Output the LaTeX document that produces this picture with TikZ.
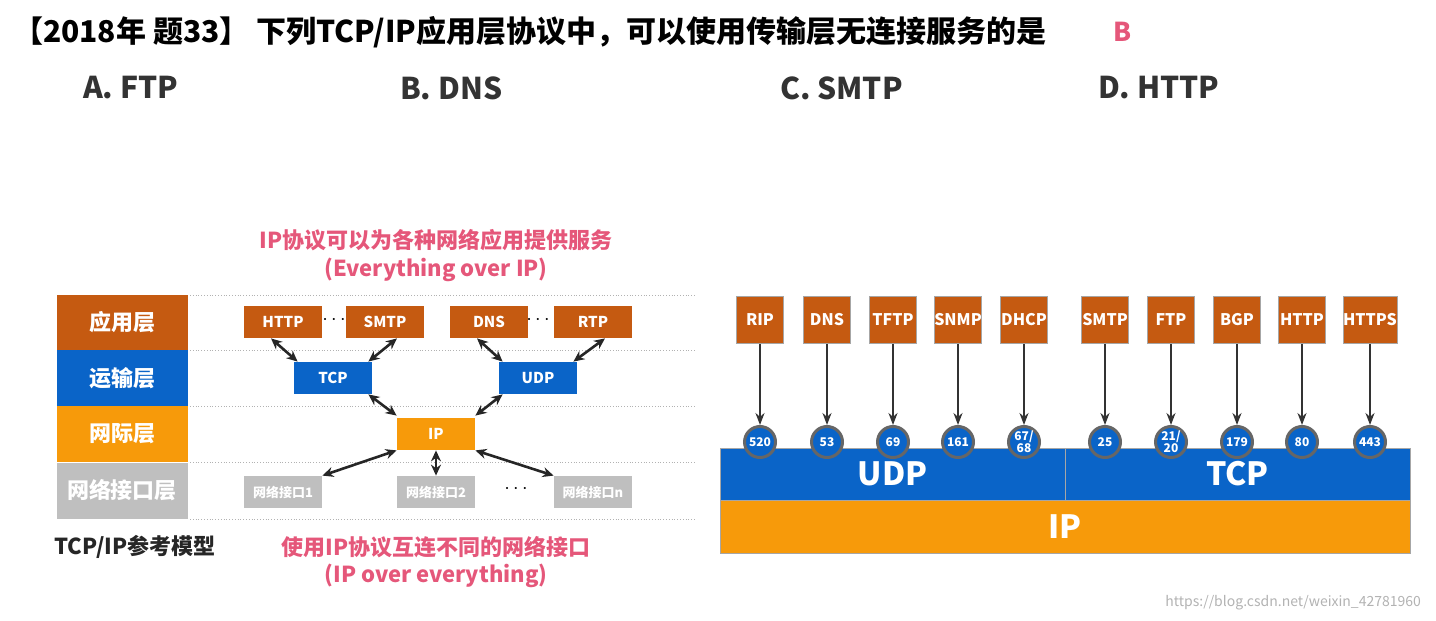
\documentclass[tikz,border=0pt]{standalone}
\usepackage{fontspec}
\setmainfont{Noto Sans CJK SC}
\usepackage{tikz}
\usetikzlibrary{positioning}
\usetikzlibrary{arrows.meta, calc}
\definecolor{appc}{HTML}{C55A11}
\definecolor{trc}{HTML}{0A64C8}
\definecolor{ipc}{HTML}{F79A0A}
\definecolor{ifc}{HTML}{BFBFBF}
\definecolor{pinkc}{HTML}{E5577A}

\begin{document}
\begin{tikzpicture}[x=0.5pt, y=-0.5pt,
    layer/.style={fill=#1, minimum width=65.5pt, minimum height=28pt, text=white, font=\fontsize{11}{13}\selectfont\bfseries},
    proto/.style={fill=#1, minimum width=39pt, minimum height=16pt, text=white, font=\fontsize{7.5}{9}\selectfont\bfseries},
    app/.style={draw=gray!70, fill=appc, minimum width=23.5pt, minimum height=23.5pt, text=white, font=\fontsize{8}{10}\selectfont\bfseries, inner sep=0pt},
    port/.style={circle, draw=gray!80!black, line width=1.5pt, fill=trc, minimum size=15.5pt, inner sep=0pt, text=white, font=\fontsize{6}{6}\selectfont\bfseries},
    link/.style={{Stealth[length=5.5pt,width=5pt]}-{Stealth[length=5.5pt,width=5pt]}, line width=1.3pt, draw=gray!30!black},
    red/.style={text=pinkc, font=\fontsize{11}{13}\selectfont\bfseries}]
    \useasboundingbox (0,0) rectangle (1436,621);

    % Question
    \node[anchor=west, font=\fontsize{15}{17}\selectfont\bfseries] (title) at (6,32) {【2018年 题33】 下列TCP/IP应用层协议中，可以使用传输层无连接服务的是};
    \node[text=pinkc, font=\fontsize{13}{15}\selectfont\bfseries] (ans) at (1123,32) {B};
    \node[anchor=west, text=black!80, font=\fontsize{15}{17}\selectfont\bfseries] (optA) at (76,88) {A. FTP};
    \node[anchor=west, text=black!80, font=\fontsize{15}{17}\selectfont\bfseries] (optB) at (393,88) {B. DNS};
    \node[anchor=west, text=black!80, font=\fontsize{15}{17}\selectfont\bfseries] (optC) at (773,88) {C. SMTP};
    \node[anchor=west, text=black!80, font=\fontsize{15}{17}\selectfont\bfseries] (optD) at (1091,88) {D. HTTP};

    % Layers
    \node[layer=appc] (lapp) at (122,322.5) {应用层};
    \node[layer=trc] (ltr) at (122,378) {运输层};
    \node[layer=ipc] (lip) at (122,434) {网际层};
    \node[layer=ifc] (lif) at (122,490.5) {网络接口层};
    \foreach \y in {295,350,406,462,519}
        \draw[densely dotted, gray!60] (190,\y) -- (695,\y);

    % Protocol boxes
    \node[proto=appc] (http) at (283,322) {HTTP};
    \node[proto=appc] (smtp) at (385,322) {SMTP};
    \node[proto=appc] (dns) at (489,322) {DNS};
    \node[proto=appc] (rtp) at (593,322) {RTP};
    \node[proto=trc] (tcp) at (333,378) {TCP};
    \node[proto=trc] (udp) at (538,378) {UDP};
    \node[proto=ipc] (ip) at (436,434) {IP};
    \node[proto=ifc, font=\fontsize{6.5}{8}\selectfont\bfseries] (if1) at (283,492) {网络接口1};
    \node[proto=ifc, font=\fontsize{6.5}{8}\selectfont\bfseries] (if2) at (436,492) {网络接口2};
    \node[proto=ifc, font=\fontsize{6.5}{8}\selectfont\bfseries] (ifn) at (593,492) {网络接口n};
    \node[font=\bfseries] (d1) at (334,320) {$\cdots$};
    \node[font=\bfseries] (d2) at (538,320) {$\cdots$};
    \node[font=\bfseries] (d3) at (516,489) {$\cdots$};

    % Arrows
    \draw[link] ([xshift=-6pt]http.south) -- ([xshift=2pt]tcp.north west);
    \draw[link] ([xshift=6pt]smtp.south) -- ([xshift=-2pt]tcp.north east);
    \draw[link] ([xshift=-6pt]dns.south) -- ([xshift=2pt]udp.north west);
    \draw[link] ([xshift=6pt]rtp.south) -- ([xshift=-2pt]udp.north east);
    \draw[link] ([xshift=-2pt]tcp.south east) -- ([yshift=1pt]ip.north west);
    \draw[link] ([xshift=2pt]udp.south west) -- ([yshift=1pt]ip.north east);
    \draw[link] (ip.south west) -- (if1.north east);
    \draw[link] (ip.south) -- (if2.north);
    \draw[link] (ip.south east) -- (ifn.north west);

    % Captions
    \node[red] (cap1) at (436,240) {IP协议可以为各种网络应用提供服务};
    \node[red] (cap2) at (436,270) {(Everything over IP)};
    \node[red] (cap3) at (436,547) {使用IP协议互连不同的网络接口};
    \node[red] (cap4) at (436,576) {(IP over everything)};
    \node[font=\fontsize{11}{13}\selectfont\bfseries, text=black!85] (model) at (135,547) {TCP/IP参考模型};

    % Right stack
    \node[fill=ipc, draw=gray!70, minimum width=345pt, minimum height=26.5pt, inner sep=0pt, text=white, font=\fontsize{16}{18}\selectfont\bfseries] (ipbar) at (1065,527) {IP};
    \node[fill=trc, draw=gray!70, minimum width=172.5pt, minimum height=26pt, inner sep=0pt, text=white, font=\fontsize{16}{18}\selectfont\bfseries] (udpbar) at (892.5,474) {UDP};
    \node[fill=trc, draw=gray!70, minimum width=172.5pt, minimum height=26pt, inner sep=0pt, text=white, font=\fontsize{16}{18}\selectfont\bfseries] (tcpbar) at (1237.5,474) {TCP};
    \foreach \x/\name/\pt [count=\i] in {760/RIP/520, 827/DNS/53, 893/TFTP/69, 958/SNMP/161, 1024/DHCP/{67/\\68}, 1105/SMTP/25, 1171/FTP/{21/\\20}, 1237/BGP/179, 1302/HTTP/80, 1370/HTTPS/443} {
        \node[app] (a\i) at (\x,320) {\name};
        \node[port, align=center] (p\i) at (\x,442) {\pt};
        \draw[-{Stealth[length=6pt]}, line width=1pt, draw=gray!40!black] (a\i) -- (p\i);
    }
    \node[anchor=east, text=gray!60, font=\fontsize{7}{8}\selectfont] (mark) at (1428,603) {https://blog.csdn.net/weixin\_42781960};
\end{tikzpicture}
\end{document}
